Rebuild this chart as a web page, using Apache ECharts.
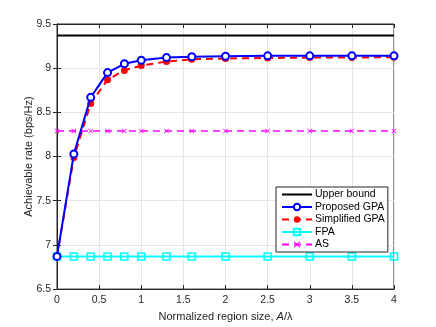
<!DOCTYPE html>
<html>
<head>
<meta charset="utf-8">
<script src="https://cdn.jsdelivr.net/npm/echarts@6/dist/echarts.min.js"></script>
<style>
  html, body { margin: 0; padding: 0; background: #fff; }
  #chart { width: 436px; height: 327px; }
</style>
</head>
<body>
<div id="chart"></div>
<script>
  // region sizes A/lambda
  var regionSize = [0, 0.2, 0.4, 0.6, 0.8, 1, 1.3, 1.6, 2, 2.5, 3, 3.5, 4];
  var upperBound = [9.37, 9.37];
  var proposedGPA = [6.87, 8.03, 8.67, 8.95, 9.05, 9.09, 9.12, 9.13, 9.135, 9.14, 9.14, 9.14, 9.14];
  var simplifiedGPA = [6.87, 7.99, 8.60, 8.87, 8.975, 9.03, 9.075, 9.10, 9.11, 9.115, 9.12, 9.12, 9.125];
  var fpa = [6.87, 6.87, 6.87, 6.87, 6.87, 6.87, 6.87, 6.87, 6.87, 6.87, 6.87, 6.87, 6.87];
  var as = [8.29, 8.29, 8.29, 8.29, 8.29, 8.29, 8.29, 8.29, 8.29, 8.29, 8.29, 8.29, 8.29];
  var legendNames = ['Upper bound', 'Proposed GPA', 'Simplified GPA', 'FPA', 'AS'];

  function pairs(ys) {
    return ys.map(function (y, i) { return [regionSize[i], y]; });
  }

  var font = 'Liberation Sans, Arial, sans-serif';
  var xMark = 'path://M0,1 L1,0 L5,4 L9,0 L10,1 L6,5 L10,9 L9,10 L5,6 L1,10 L0,9 L4,5 Z';

  var legendData = legendNames.map(function (n) {
    return n === 'Upper bound' ? { name: n, itemStyle: { opacity: 0 } } : { name: n };
  });

  var chart = echarts.init(document.getElementById('chart'));
  chart.setOption({
    animation: false,
    textStyle: { fontFamily: font },
    grid: { left: 57, right: 42, top: 24, bottom: 36, show: true, borderColor: '#262626', borderWidth: 1 },
    legend: {
      orient: 'vertical',
      left: 276, top: 187,
      data: legendData,
      itemWidth: 30, itemHeight: 8, itemGap: 1.5,
      padding: [2, 3, 2, 5],
      borderColor: '#262626', borderWidth: 1,
      backgroundColor: '#fff',
      textStyle: { fontSize: 10.5, lineHeight: 9, color: '#000', fontFamily: font, padding: [0, 0, 0, -2] }
    },
    xAxis: [{
      type: 'value', min: 0, max: 4, interval: 0.5,
      name: 'Normalized region size, {i|A}/λ',
      nameLocation: 'middle', nameGap: 21,
      nameTextStyle: { fontSize: 11, color: '#262626', rich: { i: { fontStyle: 'italic', fontSize: 11, color: '#262626' } } },
      axisLine: { lineStyle: { color: '#262626' } },
      axisTick: { inside: true, length: 4, lineStyle: { color: '#262626' } },
      axisLabel: { fontSize: 10.5, color: '#262626', margin: 6 },
      splitLine: { show: true, lineStyle: { color: '#e6e6e6' } }
    }, {
      type: 'value', min: 0, max: 4, interval: 0.5, position: 'top',
      axisLine: { show: true, lineStyle: { color: '#262626' } },
      axisTick: { inside: true, length: 4, lineStyle: { color: '#262626' } },
      axisLabel: { show: false }, splitLine: { show: false }
    }],
    yAxis: [{
      type: 'value', min: 6.5, max: 9.5, interval: 0.5,
      name: 'Achievable rate (bps/Hz)',
      nameLocation: 'middle', nameGap: 23, nameMoveOverlap: false,
      nameTextStyle: { fontSize: 11, color: '#262626' },
      axisLine: { show: true, lineStyle: { color: '#262626' } },
      axisTick: { show: true, inside: true, length: 4, lineStyle: { color: '#262626' } },
      axisLabel: { fontSize: 10.5, color: '#262626', margin: 6 },
      splitLine: { show: true, lineStyle: { color: '#e6e6e6' } }
    }, {
      type: 'value', min: 6.5, max: 9.5, interval: 0.5, position: 'right',
      axisLine: { show: true, lineStyle: { color: '#262626' } },
      axisTick: { show: true, inside: true, length: 4, lineStyle: { color: '#262626' } },
      axisLabel: { show: false }, splitLine: { show: false }
    }],
    series: [
      {
        name: 'Upper bound', type: 'line', z: 2,
        data: [[0, upperBound[0]], [4, upperBound[1]]],
        symbol: 'none', lineStyle: { color: '#000', width: 2 }, itemStyle: { color: '#000' }
      },
      {
        name: 'AS', type: 'line', z: 3,
        data: pairs(as),
        symbol: xMark, symbolSize: 5,
        lineStyle: { color: '#ff00ff', width: 1.5, type: [7, 5] },
        itemStyle: { color: '#ff00ff' }
      },
      {
        name: 'FPA', type: 'line', z: 3,
        data: pairs(fpa),
        symbol: 'rect', symbolSize: 7,
        lineStyle: { color: '#00ffff', width: 2 },
        itemStyle: { color: 'rgba(0,0,0,0)', borderColor: '#00ffff', borderWidth: 1.5 }
      },
      {
        name: 'Simplified GPA', type: 'line', z: 4,
        data: pairs(simplifiedGPA),
        symbol: 'circle', symbolSize: 7,
        lineStyle: { color: '#ff0000', width: 2, type: [7, 5] },
        itemStyle: { color: '#ff0000' }
      },
      {
        name: 'Proposed GPA', type: 'line', z: 5,
        data: pairs(proposedGPA),
        symbol: 'emptyCircle', symbolSize: 7,
        lineStyle: { color: '#0000ff', width: 2 },
        itemStyle: { color: '#0000ff', borderColor: '#0000ff', borderWidth: 1.5 }
      }
    ]
  });
</script>
</body>
</html>
